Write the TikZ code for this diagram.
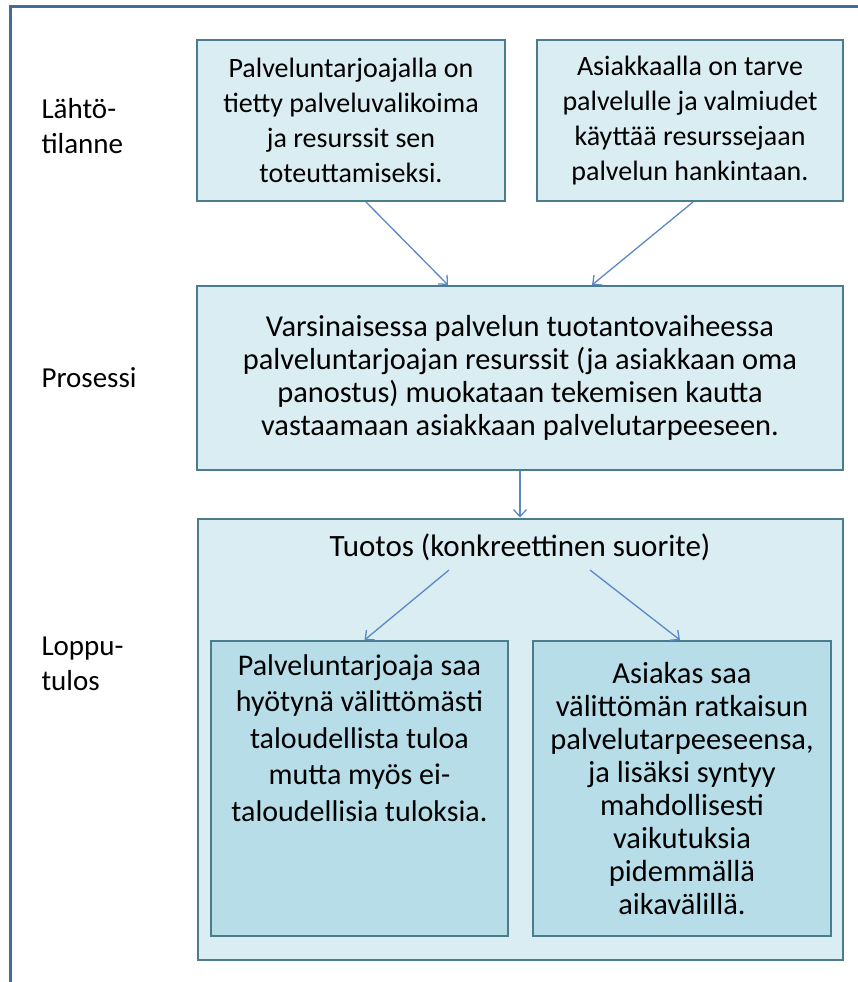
\documentclass[tikz,border=0pt]{standalone}
\usepackage{fontspec}
\setmainfont{Carlito}
\usetikzlibrary{positioning,calc,arrows.meta}
\definecolor{lightfill}{HTML}{DAEDF3}
\definecolor{darkfill}{HTML}{B7DDE8}
\definecolor{boxline}{HTML}{4A7C8C}
\definecolor{arrowblue}{HTML}{5B88C6}
\definecolor{framecol}{HTML}{466A9A}

\begin{document}
\begin{tikzpicture} [x=1pt, y=-1pt]
\tikzstyle{box}=[draw=boxline, line width=2pt, fill=lightfill, align=center, inner sep=0pt]
\tikzstyle{side}=[anchor=west, align=left, font=\fontsize{29}{35}\selectfont]
\tikzstyle{arr}=[draw=arrowblue, line width=1.3pt, -{Straight Barb[length=7pt,width=13pt]}]
\useasboundingbox (0,0) rectangle (858,982);
\draw [framecol, line width=3pt] (10,984) -- (10,7) -- (860,7); % frame
% left labels
\node [side] (l1) at (38,126) {Lähtö-\\tilanne};
\node [side] (l2) at (38,378) {Prosessi};
\node [side] (l3) at (38,664) {Loppu-\\tulos};
% boxes
\node [box, minimum width=308, minimum height=161, font=\fontsize{28}{35}\selectfont] (a) at (351,120.5)
  {Palveluntarjoajalla on\\tietty palveluvalikoima\\ja resurssit sen\\toteuttamiseksi.};
\node [box, minimum width=306, minimum height=161, font=\fontsize{28}{35}\selectfont] (b) at (690,120.5)
  {Asiakkaalla on tarve\\palvelulle ja valmiudet\\käyttää resurssejaan\\palvelun hankintaan.};
\node [box, minimum width=646, minimum height=184, font=\fontsize{30.4}{33}\selectfont] (p) at (520,378)
  {Varsinaisessa palvelun tuotantovaiheessa\\palveluntarjoajan resurssit (ja asiakkaan oma\\panostus) muokataan tekemisen kautta\\vastaamaan asiakkaan palvelutarpeeseen.};
\node [box, minimum width=645, minimum height=441] (o) at (520,739) {};
\node [font=\fontsize{31}{33}\selectfont] (t) at (520,547) {Tuotos (konkreettinen suorite)};
\node [box, fill=darkfill, minimum width=297, minimum height=295] (c) at (359.5,788.5) {};
\node [align=center, font=\fontsize{30}{36.5}\selectfont, below=11pt of c.north] (ct)
  {Palveluntarjoaja saa\\hyötynä välittömästi\\taloudellista tuloa\\mutta myös ei-\\taloudellisia tuloksia.};
\node [box, fill=darkfill, minimum width=298, minimum height=295, font=\fontsize{30.5}{33}\selectfont] (d) at (682,788.5)
  {Asiakas saa\\välittömän ratkaisun\\palvelutarpeeseensa,\\ja lisäksi syntyy\\mahdollisesti\\vaikutuksia\\pidemmällä\\aikavälillä.};
% arrows
\draw [arr] ($(a.south)+(15,0)$) -- ($(p.north)+(-72,0)$);
\draw [arr] ($(b.south)+(3,0)$) -- ($(p.north)+(72,0)$);
\draw [arr] (p.south) -- (o.north);
\draw [arr] ($(t.south)+(-71,6)$) -- ($(c.north)+(5,0)$);
\draw [arr] ($(t.south)+(70,6)$) -- ($(d.north)+(-2,0)$);
\end{tikzpicture}
\end{document}
